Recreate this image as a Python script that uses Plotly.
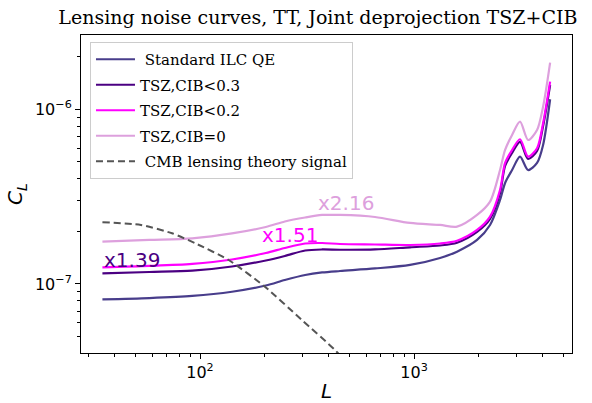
import math
import plotly.graph_objects as go

# Multipole grid shared by the reconstruction-noise curves
ell = [35, 58, 92, 141, 203, 249, 310, 372, 451, 657, 958, 1323, 1588, 1970,
       2265, 2522, 2663, 2871, 3128, 3410, 3756, 4008, 4323]

# Lensing reconstruction noise N_L for each ILC weighting
nl_standard = [8.17e-8, 8.31e-8, 8.54e-8, 9.03e-8, 9.80e-8, 1.054e-7, 1.126e-7,
               1.164e-7, 1.187e-7, 1.227e-7, 1.285e-7, 1.409e-7, 1.531e-7,
               1.786e-7, 2.177e-7, 3.026e-7, 3.785e-7, 4.49e-7, 5.355e-7,
               4.49e-7, 4.93e-7, 6.25e-7, 1.141e-6]
nl_cib03 = [1.151e-7, 1.171e-7, 1.191e-7, 1.259e-7, 1.363e-7, 1.446e-7, 1.555e-7,
            1.576e-7, 1.57e-7, 1.576e-7, 1.622e-7, 1.661e-7, 1.723e-7,
            1.985e-7, 2.356e-7, 3.319e-7, 4.736e-7, 5.622e-7, 6.50e-7,
            5.194e-7, 5.771e-7, 8.02e-7, 1.377e-6]
nl_cib02 = [1.246e-7, 1.268e-7, 1.302e-7, 1.381e-7, 1.504e-7, 1.607e-7, 1.705e-7,
            1.716e-7, 1.694e-7, 1.683e-7, 1.672e-7, 1.705e-7, 1.769e-7,
            2.038e-7, 2.428e-7, 3.452e-7, 4.93e-7, 5.848e-7, 6.734e-7,
            5.355e-7, 5.98e-7, 8.32e-7, 1.439e-6]
nl_cib0 = [1.746e-7, 1.786e-7, 1.826e-7, 1.946e-7, 2.12e-7, 2.279e-7, 2.403e-7,
           2.483e-7, 2.483e-7, 2.418e-7, 2.235e-7, 2.177e-7, 2.128e-7,
           2.483e-7, 2.959e-7, 4.49e-7, 5.848e-7, 7.13e-7, 8.49e-7,
           6.67e-7, 7.61e-7, 1.035e-6, 1.848e-6]

# Theory lensing power spectrum
ell_theory = [35, 53, 74, 95, 136, 201, 299, 427, 560, 700]
cl_theory = [2.256e-7, 2.177e-7, 1.951e-7, 1.71e-7, 1.372e-7, 9.65e-8,
             6.22e-8, 4.19e-8, 2.9e-8, 2.0e-8]

series_names = [" Standard ILC QE", "TSZ,CIB<0.3", "TSZ,CIB<0.2", "TSZ,CIB=0"]
series_values = [nl_standard, nl_cib03, nl_cib02, nl_cib0]
series_colors = ["#483D8B", "#4B0082", "#FF00FF", "#DDA0DD"]

# Noise ratio labels relative to the standard ILC
ratio_labels = ["x1.39", "x1.51", "x2.16"]

fig = go.Figure()
for name, vals, color in zip(series_names, series_values, series_colors):
    fig.add_trace(go.Scatter(
        x=ell, y=vals, mode="lines", name=name, legendgroup=name,
        line=dict(color=color, width=2.2, shape="spline", smoothing=0.8),
    ))
fig.add_trace(go.Scatter(
    x=ell_theory, y=cl_theory, mode="lines", name=" CMB lensing theory signal",
    legendgroup="theory",
    line=dict(color="#555555", width=2, dash="7px,4px", shape="spline", smoothing=0.6),
))

label_pos = [(47.9, 1.372e-7), (262, 1.908e-7), (479, 2.92e-7)]
label_colors = [series_colors[1], series_colors[2], series_colors[3]]
for text, (lx, ly), col in zip(ratio_labels, label_pos, label_colors):
    fig.add_annotation(x=math.log10(lx), y=math.log10(ly),
                       text=text, showarrow=False, xanchor="center", yanchor="middle",
                       font=dict(family="DejaVu Sans", size=20, color=col))

x_minor = [30, 40, 50, 60, 70, 80, 90, 200, 300, 400, 500, 600, 700, 800, 900,
           2000, 3000, 4000, 5000]
y_minor = [5e-8, 6e-8, 7e-8, 8e-8, 9e-8, 2e-7, 3e-7, 4e-7, 5e-7, 6e-7, 7e-7,
           8e-7, 9e-7, 2e-6]

axis_common = dict(
    type="log", showgrid=False, zeroline=False, showline=True, linecolor="black",
    linewidth=1, mirror=True, ticks="outside", ticklen=5, tickwidth=1,
    tickcolor="black", tickfont=dict(family="DejaVu Sans", size=16, color="black"),
)

fig.update_layout(
    template="none",
    width=592, height=403,
    margin=dict(l=81, r=20, t=35, b=50),
    paper_bgcolor="white", plot_bgcolor="white",
    title=dict(text="Lensing noise curves, TT, Joint deprojection TSZ+CIB",
               font=dict(family="DejaVu Serif", size=19, color="black"),
               x=0.537, xref="container", xanchor="center",
               y=0.958, yref="container", yanchor="middle"),
    xaxis=dict(axis_common, range=[1.444, 3.738],
               tickvals=[100, 1000], ticktext=["10<sup>2</sup>", "10<sup>3</sup>"],
               minor=dict(tickvals=x_minor, ticks="outside", ticklen=3,
                          tickwidth=1, tickcolor="black"),
               title=dict(text="<i>L</i>", standoff=9,
                          font=dict(family="DejaVu Sans", size=20, color="black"))),
    yaxis=dict(axis_common, range=[-7.395, -5.575],
               tickvals=[1e-7, 1e-6], ticktext=["10<sup>−7</sup>", "10<sup>−6</sup>"],
               minor=dict(tickvals=y_minor, ticks="outside", ticklen=3,
                          tickwidth=1, tickcolor="black"),
               title=dict(text="<i>C</i><sub><i>L</i></sub>", standoff=6,
                          font=dict(family="DejaVu Sans", size=20, color="black"))),
    showlegend=True,
    legend=dict(x=0.0183, y=0.978, xanchor="left", yanchor="top",
                bordercolor="#cccccc", borderwidth=1, itemwidth=39,
                bgcolor="rgba(255,255,255,0.8)", tracegroupgap=3,
                font=dict(family="DejaVu Serif", size=15, color="black")),
)

fig.write_html("out.html")
